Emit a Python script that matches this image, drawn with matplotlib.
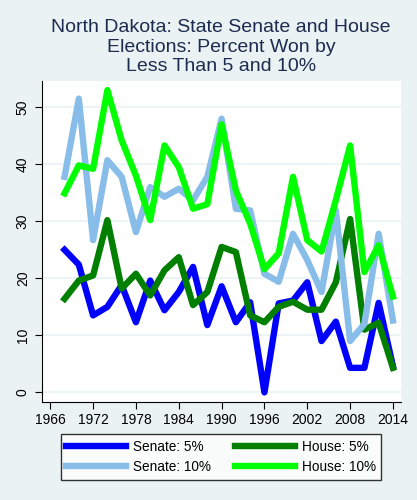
import numpy as np
import matplotlib
matplotlib.use('Agg')
import matplotlib.pyplot as plt

plt.rcParams['font.family'] = ['Liberation Sans', 'DejaVu Sans']

years = list(range(1968, 2015, 2))
senate5 = [25.0, 22.4, 13.5, 15.0, 18.8, 12.3, 19.6, 14.4, 17.6, 22.0, 11.8, 18.6,
           12.3, 15.8, 0.0, 15.6, 16.1, 19.3, 9.0, 12.4, 4.3, 4.3, 15.7, 4.6]
house5 = [16.4, 19.6, 20.5, 30.2, 18.2, 20.8, 17.0, 21.4, 23.7, 15.3, 17.6, 25.5,
          24.6, 13.5, 12.3, 15.0, 15.9, 14.5, 14.5, 19.3, 30.4, 11.0, 12.2, 4.3]
senate10 = [37.8, 51.5, 26.7, 40.7, 37.8, 28.1, 36.0, 34.3, 35.7, 33.7, 37.8, 48.0,
            32.2, 31.9, 20.8, 19.4, 27.8, 23.2, 17.6, 31.9, 9.0, 12.0, 27.8, 12.6]
house10 = [34.9, 39.8, 39.2, 53.0, 44.2, 38.0, 30.2, 43.3, 39.5, 32.2, 33.0, 47.0,
           35.4, 29.6, 21.6, 24.4, 37.8, 26.7, 24.7, 33.7, 43.3, 21.1, 25.8, 16.8]

bg = '#eaf2f3'
fig = plt.figure(figsize=(4.17, 5.0), dpi=100, facecolor=bg)
ax = fig.add_axes([0.1, 0.197, 0.862, 0.641])
ax.set_facecolor('white')

lw = 4.6
l1, = ax.plot(years, senate5, color='#0000ff', lw=lw, label='Senate: 5%')
l2, = ax.plot(years, house5, color='#007f00', lw=lw, label='House: 5%')
l3, = ax.plot(years, senate10, color='#87bde8', lw=lw, label='Senate: 10%')
l4, = ax.plot(years, house10, color='#00ff00', lw=lw, label='House: 10%')

ax.set_xlim(1964.8, 2015.15)
ax.set_ylim(-1.6, 54.6)
ax.set_xticks(range(1966, 2015, 6))
ax.set_yticks(range(0, 51, 10))
ax.grid(axis='y', color=bg, lw=1.2)
ax.set_axisbelow(True)
for s in ['top', 'right']:
    ax.spines[s].set_visible(False)
ax.tick_params(labelsize=10, length=5, colors='black')
for lab in ax.get_yticklabels():
    lab.set_rotation(90)
    lab.set_va('center')

fig.text(0.53, 0.906, 'North Dakota: State Senate and House\nElections: Percent Won by\nLess Than 5 and 10%',
         ha='center', va='center', fontsize=14, color='#1c2b4f', linespacing=1.2)

leg = fig.legend([l1, l3, l2, l4], ['Senate: 5%', 'Senate: 10%', 'House: 5%', 'House: 10%'],
                 ncol=2, loc='center', bbox_to_anchor=(0.53, 0.086), fontsize=9.8,
                 frameon=True, fancybox=False, edgecolor='black', handlelength=4.4,
                 handletextpad=0.5, columnspacing=1.8, borderpad=0.4, labelspacing=0.45)
leg.get_frame().set_linewidth(1.0)

fig.savefig('out.png', dpi=100, facecolor=bg)
